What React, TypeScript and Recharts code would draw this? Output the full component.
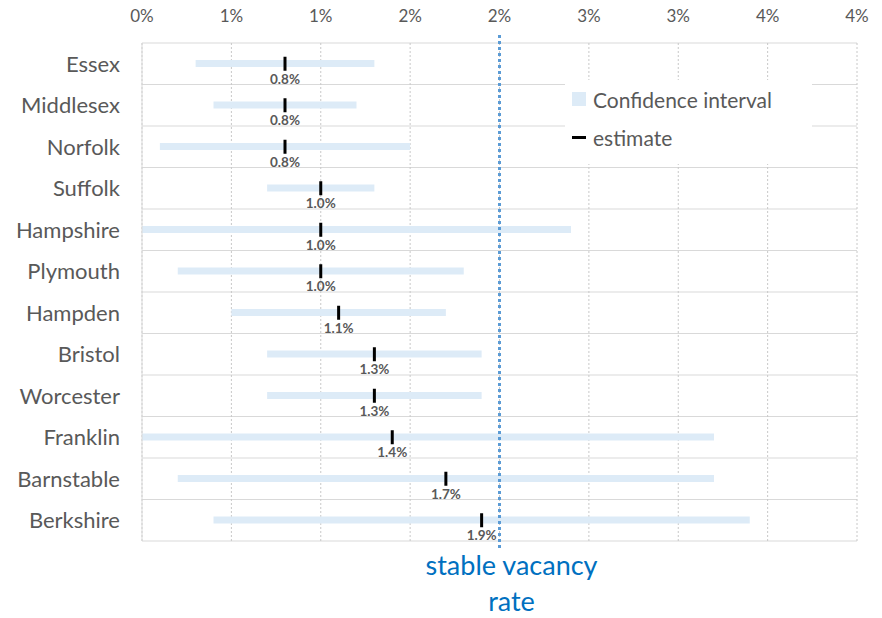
import { Bar, CartesianGrid, ComposedChart, Legend, Line, ReferenceLine, XAxis, YAxis } from 'recharts';

const counties = ['Essex', 'Middlesex', 'Norfolk', 'Suffolk', 'Hampshire', 'Plymouth', 'Hampden', 'Bristol', 'Worcester', 'Franklin', 'Barnstable', 'Berkshire'];
const estimates = [0.008, 0.008, 0.008, 0.010, 0.010, 0.010, 0.011, 0.013, 0.013, 0.014, 0.017, 0.019];
const ciLow = [0.003, 0.004, 0.001, 0.007, 0.000, 0.002, 0.005, 0.007, 0.007, 0.000, 0.002, 0.004];
const ciHigh = [0.013, 0.012, 0.015, 0.013, 0.024, 0.018, 0.017, 0.019, 0.019, 0.032, 0.032, 0.034];
const xTicks = [0, 0.005, 0.01, 0.015, 0.02, 0.025, 0.03, 0.035, 0.04];
const stableRate = 0.02;

const data = counties.map((name, i) => ({
  name,
  ci: [ciLow[i], ciHigh[i]],
  estimate: estimates[i]
}));

const FONT = 'Lato, "Open Sans", sans-serif';
const GREY = '#595959';

function EstimateMark(props: any) {
  const { cx, cy, payload } = props;
  if (cx == null || cy == null) return null;
  return (
    <g>
      <rect x={cx - 1.5} y={cy - 7} width={3} height={14} fill="#000" />
      <text x={cx} y={cy + 20} textAnchor="middle" fontSize={13.5} fontWeight="bold" fill={GREY} fontFamily={FONT}>
        {(payload.estimate * 100).toFixed(1)}%
      </text>
    </g>
  );
}

function LegendBox({ payload }: any) {
  return (
    <div style={{ background: '#fff', padding: '0 0 8px 7px', fontFamily: FONT, fontSize: 21, color: GREY }}>
      {(payload || []).map((p: any) => (
        <div key={p.value} style={{ display: 'flex', alignItems: 'center', height: 38 }}>
          {p.dataKey === 'ci' ? (
            <span style={{ width: 14, height: 14, background: '#DDEBF7', marginRight: 7 }} />
          ) : (
            <span style={{ width: 14, height: 3, background: '#000', marginRight: 7 }} />
          )}
          {p.value}
        </div>
      ))}
    </div>
  );
}

function StableLine(props: any) {
  const { x1, y1, y2 } = props;
  return (
    <g>
      <line x1={x1} x2={x1} y1={y1 - 8} y2={y2 + 8} stroke="#5B9BD5" strokeWidth={3} strokeDasharray="3 3" />
      <text x={x1 + 12} y={y2 + 34} textAnchor="middle" fontSize={27} fill="#0070C0" fontFamily={FONT}>
        <tspan x={x1 + 12}>stable vacancy</tspan>
        <tspan x={x1 + 12} dy={36}>rate</tspan>
      </text>
    </g>
  );
}

export default function App() {
  return (
    <div style={{ position: 'absolute', left: 0, top: 0 }}>
      <ComposedChart
        width={882}
        height={618}
        data={data}
        layout="vertical"
        margin={{ top: 10, right: 25, bottom: 77, left: 0 }}
      >
        <CartesianGrid
          stroke="#D9D9D9"
          vertical={false}
          horizontalCoordinatesGenerator={({ offset }: any) =>
            counties.map((_, i) => offset.top + (i * offset.height) / counties.length).concat(offset.top + offset.height)
          }
        />
        <CartesianGrid stroke="#C8C8C8" horizontal={false} strokeDasharray="2 2" />
        <XAxis
          type="number"
          orientation="top"
          domain={[0, 0.04]}
          ticks={xTicks}
          height={33}
          axisLine={false}
          tickLine={false}
          tickFormatter={(v: number) => `${Math.round(v * 100)}%`}
          tick={{ fill: GREY, fontSize: 17, fontFamily: FONT }}
          tickMargin={15}
        />
        <YAxis
          type="category"
          dataKey="name"
          width={142}
          axisLine={{ stroke: '#D9D9D9' }}
          tickLine={false}
          tick={{ fill: GREY, fontSize: 22, fontFamily: FONT }}
          tickMargin={16}
        />
        <ReferenceLine x={stableRate} shape={StableLine} />
        <Bar dataKey="ci" name="Confidence interval" fill="#DDEBF7" barSize={7} isAnimationActive={false} />
        <Line
          dataKey="estimate"
          name="estimate"
          stroke="none"
          dot={EstimateMark}
          activeDot={false}
          isAnimationActive={false}
        />
        <Legend
          layout="vertical"
          align="center"
          verticalAlign="middle"
          content={LegendBox}
          wrapperStyle={{ left: 565, top: 80, width: 247 }}
        />
      </ComposedChart>
    </div>
  );
}
